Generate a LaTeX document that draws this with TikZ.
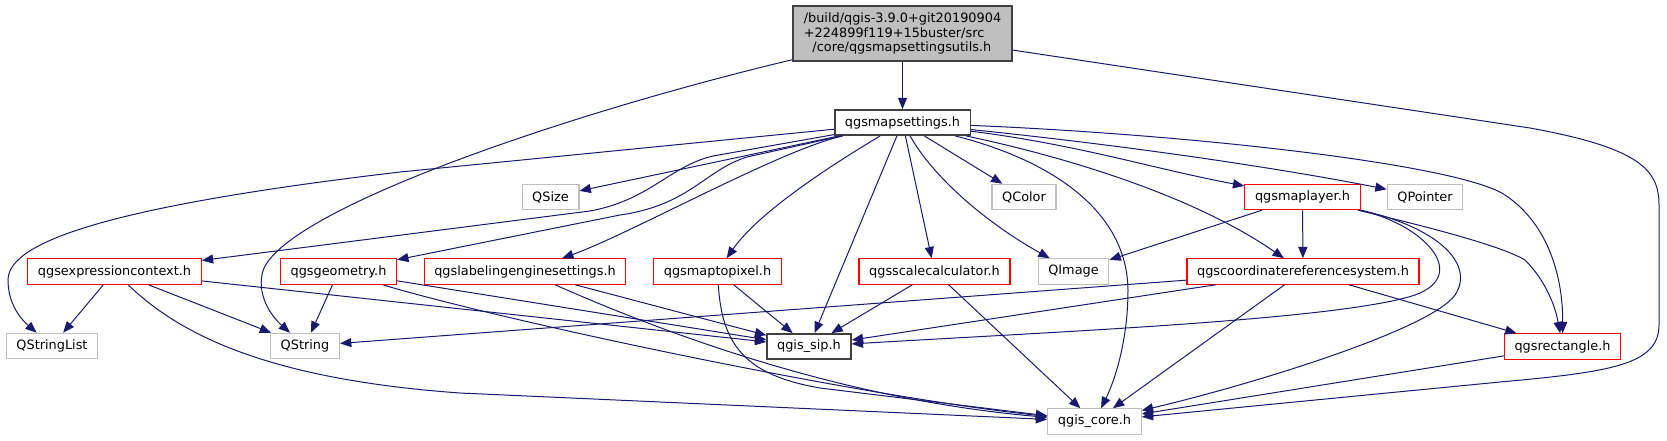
\documentclass[tikz,border=0pt]{standalone}
\usepackage{fontspec}
\setmainfont{DejaVu Sans}
\usetikzlibrary{arrows.meta}
\definecolor{dxedge}{HTML}{191970}
\definecolor{dxred}{HTML}{FF0000}
\definecolor{dxgray}{HTML}{BFBFBF}
\definecolor{dxblack}{HTML}{404040}

\begin{document}
\begin{tikzpicture}[
    x=0.75pt, y=-0.75pt,
    box/.style={
        rectangle,
        line width=0.9pt,
        fill=white,
        inner xsep=7.6pt,
        inner ysep=0pt,
        minimum height=19pt,
        font=\fontsize{9.65pt}{10.9pt}\selectfont
    },
    redbox/.style={box, draw=dxred},
    graybox/.style={box, draw=dxgray},
    blackbox/.style={box, draw=dxblack, line width=1.1pt},
    hdr/.style={blackbox, fill=dxgray, align=left, minimum height=41pt, minimum width=164pt},
    dep/.style={->, >={Triangle[length=8.5pt,width=6.8pt]}, line width=0.75pt, dxedge}
]
    \useasboundingbox (0,0) rectangle (1667,440);

    % Nodes
    \node[hdr] (utils) at (902.5,33.5) {/build/qgis-3.9.0+git20190904\\+224899f119+15buster/src\\\hspace*{6.5pt}/core/qgsmapsettingsutils.h};
    \node[blackbox] (ms) at (902.5,122.5) {qgsmapsettings.h};

    \node[graybox] (qsize) at (550.5,197) {QSize};
    \node[graybox] (qcolor) at (1024,197) {QColor};
    \node[redbox] (maplayer) at (1302.5,197) {qgsmaplayer.h};
    \node[graybox] (qpointer) at (1425,197) {QPointer};

    \node[redbox] (exprctx) at (114.5,271.5) {qgsexpressioncontext.h};
    \node[redbox] (geometry) at (338.5,271.5) {qgsgeometry.h};
    \node[redbox] (labeling) at (525,271.5) {qgslabelingenginesettings.h};
    \node[redbox] (maptopixel) at (717.5,271.5) {qgsmaptopixel.h};
    \node[redbox] (scalecalc) at (934.5,271.5) {qgsscalecalculator.h};
    \node[graybox] (qimage) at (1073.5,271.5) {QImage};
    \node[redbox] (crs) at (1303,271.5) {qgscoordinatereferencesystem.h};

    \node[graybox] (qstringlist) at (52,346) {QStringList};
    \node[graybox] (qstring) at (305,346) {QString};
    \node[blackbox] (sip) at (809,346.5) {qgis\_sip.h};
    \node[redbox] (rectangle) at (1562.5,346.5) {qgsrectangle.h};

    \node[graybox] (core) at (1094.5,421.5) {qgis\_core.h};

    % Edges
    \draw[dep] (utils) -- (ms);
    \draw[dep] (utils) .. controls (560,115) and (270,215) .. (262,275) .. controls (258,295) and (270,315) .. (qstring);
    \draw[dep] (utils) -- (1530,128) .. controls (1640,148) and (1659,170) .. (1659,205) -- (1659,325) .. controls (1659,365) and (1610,372) .. (1500,382) -- (core);

    \draw[dep] (ms) -- (400,172) .. controls (120,205) and (8,240) .. (8,280) .. controls (8,305) and (22,320) .. (qstringlist);
    \draw[dep] (ms) -- (qsize);
    \draw[dep] (ms) -- (713,156) .. controls (670,166) and (650,200) .. (590,211) -- (exprctx);
    \draw[dep] (ms) -- (747,157) .. controls (705,170) and (690,205) .. (620,215) -- (geometry);
    \draw[dep] (ms) .. controls (780,150) and (630,234) .. (labeling);
    \draw[dep] (ms) .. controls (840,160) and (760,210) .. (maptopixel);
    \draw[dep] (ms) -- (sip);
    \draw[dep] (ms) -- (scalecalc);
    \draw[dep] (ms) .. controls (935,180) and (990,225) .. (qimage);
    \draw[dep] (ms) -- (qcolor);
    \draw[dep] (ms) .. controls (1050,160) and (1127,210) .. (1128,290) .. controls (1128,340) and (1115,380) .. (core);
    \draw[dep] (ms) .. controls (1080,160) and (1200,200) .. (crs);
    \draw[dep] (ms) .. controls (1080,145) and (1150,168) .. (maplayer);
    \draw[dep] (ms) .. controls (1150,148) and (1300,172) .. (qpointer);
    \draw[dep] (ms) .. controls (1200,135) and (1460,165) .. (1505,195) .. controls (1550,225) and (1563,280) .. (rectangle);

    \draw[dep] (exprctx) -- (qstringlist);
    \draw[dep] (exprctx) -- (qstring);
    \draw[dep] (exprctx) -- (sip);
    \draw[dep] (exprctx) .. controls (185,340) and (280,380) .. (460,393) -- (core);

    \draw[dep] (geometry) -- (qstring);
    \draw[dep] (geometry) -- (sip);
    \draw[dep] (geometry) .. controls (500,320) and (850,395) .. (core);

    \draw[dep] (labeling) -- (sip);
    \draw[dep] (labeling) .. controls (680,340) and (850,400) .. (core);

    \draw[dep] (maptopixel) -- (sip);
    \draw[dep] (maptopixel) .. controls (722,345) and (745,375) .. (820,388) -- (core);

    \draw[dep] (scalecalc) -- (sip);
    \draw[dep] (scalecalc) -- (core);

    \draw[dep] (maplayer) -- (qimage);
    \draw[dep] (maplayer) -- (crs);
    \draw[dep] (maplayer) .. controls (1425,225) and (1470,275) .. (1415,295) .. controls (1340,320) and (1050,332) .. (sip);
    \draw[dep] (maplayer) .. controls (1440,228) and (1475,265) .. (1455,295) .. controls (1430,330) and (1250,385) .. (core);
    \draw[dep] (maplayer) .. controls (1420,225) and (1500,245) .. (1525,260) .. controls (1545,280) and (1555,305) .. (rectangle);

    \draw[dep] (crs) -- (qstring);
    \draw[dep] (crs) -- (sip);
    \draw[dep] (crs) -- (core);
    \draw[dep] (crs) -- (rectangle);

    \draw[dep] (rectangle) -- (core);
\end{tikzpicture}
\end{document}
